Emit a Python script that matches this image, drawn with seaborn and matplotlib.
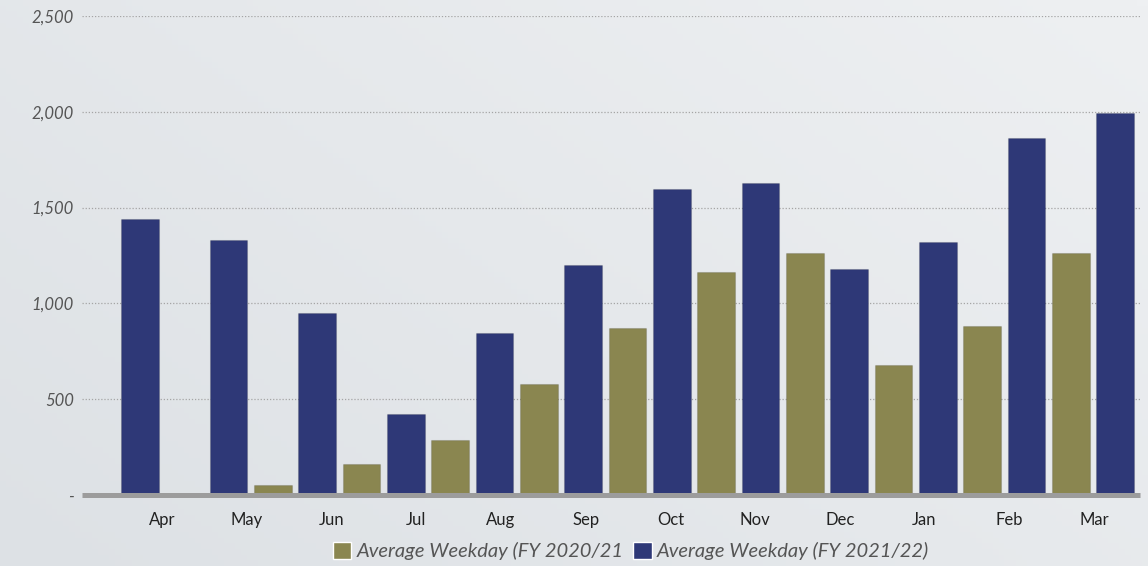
import numpy as np
import pandas as pd
import matplotlib
matplotlib.use('Agg')
import matplotlib.pyplot as plt
from matplotlib.patches import Patch
import seaborn as sns

# Average weekday values per month
months = ['Apr', 'May', 'Jun', 'Jul', 'Aug', 'Sep', 'Oct', 'Nov', 'Dec', 'Jan', 'Feb', 'Mar']
fy2122 = [1440, 1332, 948, 425, 845, 1202, 1596, 1627, 1181, 1321, 1865, 1993]
fy2021 = [0, 50, 160, 285, 580, 870, 1166, 1264, 679, 881, 1264, np.nan]

lab_2021 = 'Average Weekday (FY 2020/21'
lab_2122 = 'Average Weekday (FY 2021/22)'
yticks = [0, 500, 1000, 1500, 2000, 2500]

navy = '#2e3877'
olive = '#8a8650'

df = pd.DataFrame({
    'month': months * 2,
    'series': [lab_2122] * len(months) + [lab_2021] * len(months),
    'value': fy2122 + fy2021,
})

sns.set_style('white')
plt.rcParams['font.family'] = ['Lato', 'DejaVu Sans']

W, H = 1148, 566
fig = plt.figure(figsize=(W / 100, H / 100), dpi=100)

# soft diagonal gradient background
bg = fig.add_axes([0, 0, 1, 1], zorder=-10)
gx, gy = np.meshgrid(np.linspace(0, 1, 200), np.linspace(0, 1, 100))
grad = gx * 0.6 + (1 - gy) * 0.4
bg.imshow(grad, cmap=matplotlib.colors.LinearSegmentedColormap.from_list('bg', ['#dde1e5', '#eef0f2']),
          aspect='auto', extent=[0, 1, 0, 1], origin='upper')
bg.axis('off')

ax = fig.add_axes([82 / W, (H - 495) / H, (1140 - 82) / W, (495 - 16) / H])
ax.set_facecolor('none')

sns.barplot(data=df, x='month', y='value', hue='series', order=months,
            hue_order=[lab_2122, lab_2021],
            palette={lab_2122: navy, lab_2021: olive},
            width=1.0, gap=0.15, saturation=1, errorbar=None,
            legend=False, ax=ax, zorder=3)

# subtle bevel: darker edge on bars
for p in ax.patches:
    p.set_edgecolor((0, 0, 0, 0.12))
    p.set_linewidth(0.8)

ax.set_xlim(-0.904, 11.03)
ax.set_ylim(0, 2500)

# month labels drift slightly from the bar groups in the original
ax.set_xticks(np.arange(len(months)) * 0.9555)
ax.set_xticklabels(months, fontsize=12, color='#222222')
ax.set_yticks(yticks)
ax.set_yticklabels(['-' if v == 0 else f'{v:,}' for v in yticks],
                   fontsize=12, color='#555555', style='italic')
ax.tick_params(axis='x', length=0, pad=12)
ax.tick_params(axis='y', length=0, pad=6)

for v in yticks[1:]:
    ax.axhline(v, color='#a5a5a5', lw=0.9, ls=(0, (1, 1.5)), zorder=1)
ax.axhline(0, color='#9c9c9c', lw=3.6, zorder=4, clip_on=False, solid_capstyle='butt')

for s in ax.spines.values():
    s.set_visible(False)
ax.set_xlabel('')
ax.set_ylabel('')

handles = [Patch(facecolor=olive, label=lab_2021), Patch(facecolor=navy, label=lab_2122)]
fig.legend(handles=handles, loc='center', bbox_to_anchor=(631 / W, 1 - 551 / H), ncol=2,
           frameon=False, handlelength=0.9, handleheight=0.9, handletextpad=0.25,
           columnspacing=0.5, prop={'size': 14.5, 'style': 'italic'}, labelcolor='#555555')

fig.savefig('out.png', dpi=100)
